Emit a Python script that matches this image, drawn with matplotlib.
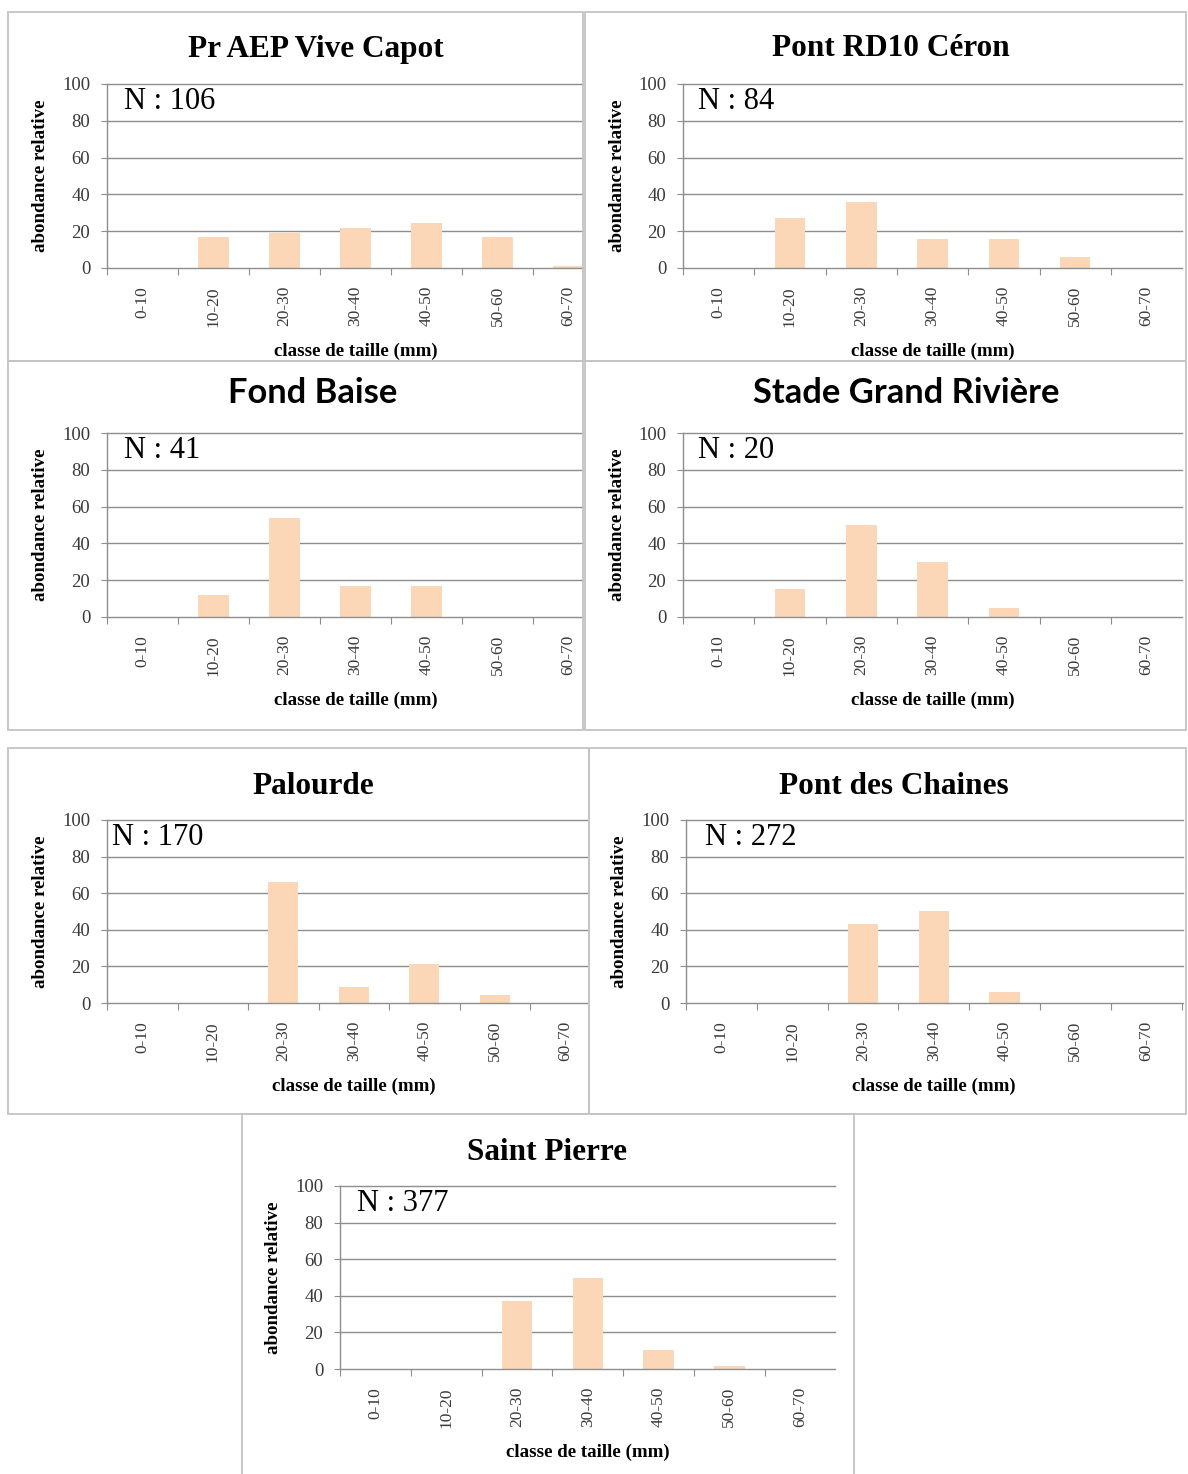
import matplotlib.pyplot as plt
from matplotlib.patches import Rectangle

W, H = 1188, 1474

classes = ['0-10', '10-20', '20-30', '30-40', '40-50', '50-60', '60-70']
yticks = [0, 20, 40, 60, 80, 100]

stations = ['Pr AEP Vive Capot', 'Pont RD10 Céron', 'Fond Baise',
            'Stade Grand Rivière', 'Palourde', 'Pont des Chaines', 'Saint Pierre']
effectifs = [106, 84, 41, 20, 170, 272, 377]

# relative abundance (%) per size class
vive_capot = [0, 17.0, 18.9, 21.7, 24.5, 17.0, 0.9]
rd10_ceron = [0, 27.4, 35.7, 15.5, 15.5, 6.0, 0]
fond_baise = [0, 12.2, 53.7, 17.1, 17.1, 0, 0]
grand_riviere = [0, 15.0, 50.0, 30.0, 5.0, 0, 0]
palourde = [0, 0, 65.9, 8.8, 21.2, 4.1, 0]
pont_chaines = [0, 0, 43.4, 50.4, 6.2, 0, 0]
saint_pierre = [0, 0, 37.4, 49.9, 10.6, 1.6, 0]

series = [vive_capot, rd10_ceron, fond_baise, grand_riviere,
          palourde, pont_chaines, saint_pierre]

# pixel layout: frame box, axis left/right, y of 0 and 100, class spacing,
# title centre, N offset, title family
layout = [
    dict(frame=(8, 12, 583, 361), left=107, right=583, y0=268, y100=84, step=71.0,
         title=(316, 46), nx=17, sans=False),
    dict(frame=(585, 12, 1186, 361), left=683, right=1182, y0=268, y100=84, step=71.3,
         title=(891, 46), nx=15, sans=False),
    dict(frame=(8, 361, 583, 730), left=107, right=583, y0=617, y100=433, step=71.0,
         title=(313, 392), nx=17, sans=True),
    dict(frame=(585, 361, 1186, 730), left=683, right=1182, y0=617, y100=433, step=71.3,
         title=(906, 392), nx=15, sans=True),
    dict(frame=(8, 748, 589, 1114), left=107, right=588, y0=1003, y100=820, step=70.5,
         title=(313, 783), nx=5, sans=False),
    dict(frame=(589, 748, 1186, 1114), left=686, right=1183, y0=1003, y100=820, step=70.8,
         title=(894, 783), nx=19, sans=False),
    dict(frame=(242, 1114, 854, 1476), left=340, right=835, y0=1369, y100=1186, step=70.8,
         title=(547, 1149), nx=17, sans=False),
]

SERIF = 'Liberation Serif'
SANS = 'Lato'
BAR = '#fbd7b7'
GRID = '#8e8e8e'
FRAME = '#c4c4c4'
TICK = '#3a3a3a'


def fx(x):
    return x / W


def fy(y):
    return 1 - y / H


fig = plt.figure(figsize=(W / 100, H / 100), dpi=100)

for name, n, vals, lay in zip(stations, effectifs, series, layout):
    x0, y0f, x1, y1f = lay['frame']
    fig.add_artist(Rectangle((fx(x0), fy(y1f)), (x1 - x0) / W, (y1f - y0f) / H,
                             transform=fig.transFigure, fill=False,
                             ec=FRAME, lw=1.3))

    left, right, step = lay['left'], lay['right'], lay['step']
    ax = fig.add_axes([fx(left), fy(lay['y0']), (right - left) / W,
                       (lay['y0'] - lay['y100']) / H])

    for t in yticks[1:]:
        ax.axhline(t, color=GRID, lw=1.0, clip_on=False, zorder=1)
    ax.bar(range(len(classes)), vals, width=0.43, color=BAR, zorder=2)

    for s in ['top', 'right']:
        ax.spines[s].set_visible(False)
    for s in ['left', 'bottom']:
        ax.spines[s].set_color(GRID)
        ax.spines[s].set_linewidth(1.0)

    ax.set_yticks(yticks)
    ax.set_yticklabels([str(t) for t in yticks], fontfamily=SERIF, fontsize=13.5,
                       color=TICK)
    ax.tick_params(axis='y', length=4, color=GRID, pad=8)

    # boundary ticks on the class axis, labels in between
    ax.set_xticks([i - 0.5 for i in range(len(classes) + 1)])
    ax.set_xticklabels([])
    ax.tick_params(axis='x', which='major', length=5, color=GRID)
    ax.set_xticks(range(len(classes)), minor=True)
    ax.set_xticklabels(classes, minor=True, rotation=90, fontfamily=SERIF,
                       fontsize=12.5, color=TICK)
    ax.tick_params(axis='x', which='minor', length=0, pad=13)

    # limits last, so the boundary ticks do not widen the view
    ax.set_xlim(-0.5, -0.5 + (right - left) / step)
    ax.set_ylim(0, 100)

    ax.text(-0.5 + lay['nx'] / step, 90.5, f'N : {n}', fontfamily=SERIF,
            fontsize=22, va='center', ha='left')

    tx, ty = lay['title']
    if lay['sans']:
        fig.text(fx(tx), fy(ty + 1), name, fontfamily=SANS, fontweight='bold',
                 fontsize=24.8, ha='center', va='center')
    else:
        fig.text(fx(tx), fy(ty + 3), name, fontfamily=SERIF, fontweight='bold',
                 fontsize=22.5, ha='center', va='center')

    xc = left + 3.5 * step
    fig.text(fx(xc), fy(lay['y0'] + 83), 'classe de taille (mm)', fontfamily=SERIF,
             fontweight='bold', fontsize=13.6, ha='center', va='center')
    fig.text(fx(left - 66), fy((lay['y0'] + lay['y100']) / 2), 'abondance relative',
             fontfamily=SERIF, fontweight='bold', fontsize=13.6, rotation=90,
             ha='center', va='center')

fig.savefig('out.png', dpi=100, facecolor='white')
